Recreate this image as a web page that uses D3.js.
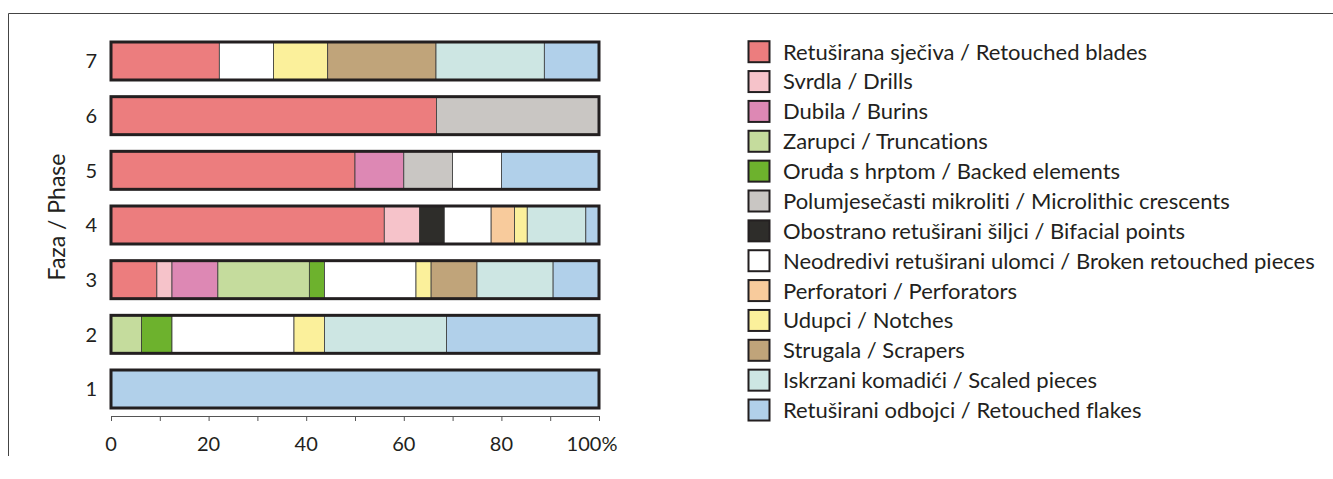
<!DOCTYPE html>
<html lang="en">
<head>
  <meta charset="utf-8">
  <title>Faza / Phase</title>
  <script src="https://d3js.org/d3.v7.min.js"></script>
  <style>
    body { margin: 0; background: #fff; }
    svg text {
      font-family: Lato, "Open Sans", sans-serif;
      fill: #231f20;
      font-variant-ligatures: none;
      font-feature-settings: "liga" 0, "clig" 0;
    }
  </style>
</head>
<body>
  <div id="container"></div>
  <script>
    var w = 1333;
    var h = 479;

    // legend / stacking order
    var categories = [
      "Retuširana sječiva / Retouched blades",
      "Svrdla / Drills",
      "Dubila / Burins",
      "Zarupci / Truncations",
      "Oruđa s hrptom / Backed elements",
      "Polumjesečasti mikroliti / Microlithic crescents",
      "Obostrano retuširani šiljci / Bifacial points",
      "Neodredivi retuširani ulomci / Broken retouched pieces",
      "Perforatori / Perforators",
      "Udupci / Notches",
      "Strugala / Scrapers",
      "Iskrzani komadići / Scaled pieces",
      "Retuširani odbojci / Retouched flakes"
    ];
    var colors = ["#ec7d7e", "#f6c3ca", "#dd88b4", "#c5dc9d", "#6db22d", "#c9c6c3",
      "#2e2d2a", "#ffffff", "#f8cb9c", "#fbf09b", "#c0a47a", "#cde6e3", "#b1d0ea"];

    var phases = ["7", "6", "5", "4", "3", "2", "1"];
    // percentage of each category per phase (same order as categories)
    var shares = {
      "1": [0, 0, 0, 0, 0, 0, 0, 0, 0, 0, 0, 0, 100],
      "2": [0, 0, 0, 6.25, 6.25, 0, 0, 25, 0, 6.25, 0, 25, 31.25],
      "3": [9.4, 3.1, 9.4, 18.75, 3.1, 0, 0, 18.75, 0, 3.1, 9.4, 15.6, 9.4],
      "4": [56, 7.2, 0, 0, 0, 0, 5.1, 9.6, 4.8, 2.6, 0, 12, 2.7],
      "5": [50, 0, 10, 0, 0, 10, 0, 10, 0, 0, 0, 0, 20],
      "6": [66.7, 0, 0, 0, 0, 33.3, 0, 0, 0, 0, 0, 0, 0],
      "7": [22.2, 0, 0, 0, 0, 0, 0, 11.1, 0, 11.1, 22.2, 22.2, 11.2]
    };
    var xTicks = [0, 20, 40, 60, 80, 100];

    var svg = d3.select("#container").append("svg")
      .attr("width", w)
      .attr("height", h);

    // frame lines
    svg.append("path")
      .attr("d", "M8.5,456 V13.5 H1333")
      .attr("fill", "none")
      .attr("stroke", "#444")
      .attr("stroke-width", 1);

    var x = d3.scaleLinear().domain([0, 100]).range([111, 599]);
    var y = d3.scaleBand().domain(phases).range([42, 408]).paddingInner(0.305);

    var rows = phases.map(function(p) {
      var r = { phase: p };
      categories.forEach(function(c, i) { r[c] = shares[p][i]; });
      return r;
    });
    var series = d3.stack().keys(categories)(rows);

    var color = d3.scaleOrdinal().domain(categories).range(colors);

    // segments
    svg.append("g").selectAll("g")
      .data(series)
      .join("g")
      .attr("fill", function(d) { return color(d.key); })
      .selectAll("rect")
      .data(function(d) { return d.filter(function(s) { return s[1] - s[0] > 0; }); })
      .join("rect")
      .attr("x", function(d) { return x(d[0]); })
      .attr("y", function(d) { return y(d.data.phase); })
      .attr("width", function(d) { return x(d[1]) - x(d[0]); })
      .attr("height", y.bandwidth())
      .attr("stroke", "#3a3a3a")
      .attr("stroke-width", 0.8);

    // thick outline of each bar
    svg.append("g").selectAll("rect")
      .data(phases)
      .join("rect")
      .attr("x", x(0))
      .attr("y", function(d) { return y(d); })
      .attr("width", x(100) - x(0))
      .attr("height", y.bandwidth())
      .attr("fill", "none")
      .attr("stroke", "#231f20")
      .attr("stroke-width", 3);

    // x axis
    var xAxis = svg.append("g")
      .attr("transform", "translate(0,416)")
      .call(d3.axisBottom(x).tickValues(d3.range(0, 101, 10)).tickSize(5).tickSizeOuter(0).tickFormat(""));
    xAxis.select(".domain").attr("stroke", "#555");
    xAxis.selectAll(".tick line").attr("stroke", "#555");

    svg.append("g").selectAll("text")
      .data(xTicks)
      .join("text")
      .attr("x", function(d) { return x(d); })
      .attr("dx", function(d) { return d === 100 ? -7 : 0; })
      .attr("y", 451)
      .attr("text-anchor", "middle")
      .attr("font-size", 20)
      .text(function(d) { return d === 100 ? "100%" : d; });

    // y labels
    svg.append("g").selectAll("text")
      .data(phases)
      .join("text")
      .attr("x", 97)
      .attr("y", function(d) { return y(d) + y.bandwidth() / 2; })
      .attr("dy", "0.36em")
      .attr("text-anchor", "end")
      .attr("font-size", 20)
      .text(function(d) { return d; });

    svg.append("text")
      .attr("transform", "translate(65,217) rotate(-90)")
      .attr("text-anchor", "middle")
      .attr("font-size", 23)
      .text("Faza / Phase");

    // legend
    var legend = svg.append("g").selectAll("g")
      .data(categories)
      .join("g")
      .attr("transform", function(d, i) { return "translate(748.5," + (51.7 + i * 29.86) + ")"; });

    legend.append("rect")
      .attr("x", 0)
      .attr("y", -10.5)
      .attr("width", 21)
      .attr("height", 21)
      .attr("fill", function(d) { return color(d); })
      .attr("stroke", "#231f20")
      .attr("stroke-width", 2);

    legend.append("text")
      .attr("x", 34.5)
      .attr("dy", "0.36em")
      .attr("font-size", 22)
      .text(function(d) { return d; });
  </script>
</body>
</html>
